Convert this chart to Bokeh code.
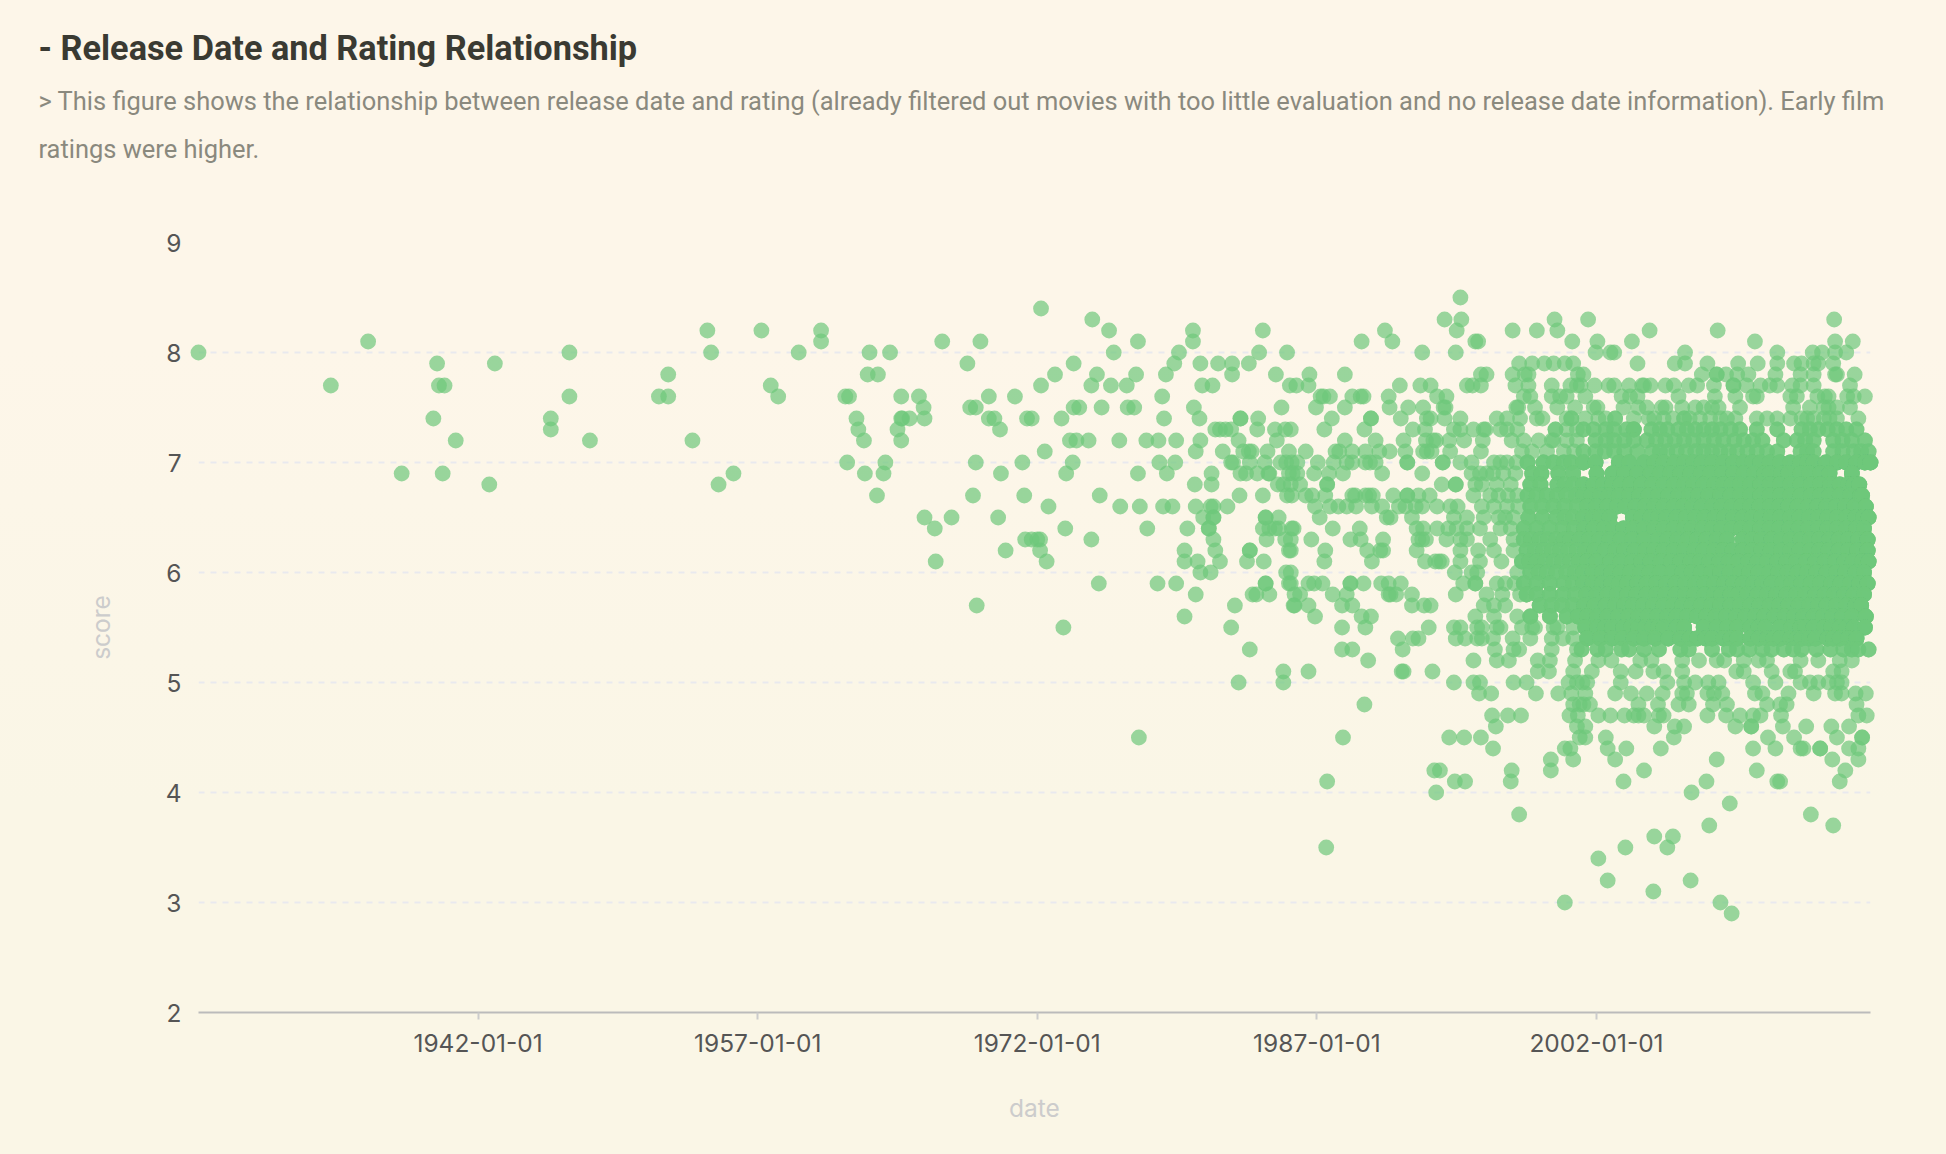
from bokeh.plotting import figure
from bokeh.models import FixedTicker, Title, GlobalInlineStyleSheet, ColumnDataSource
from bokeh.embed import file_html
from bokeh.resources import INLINE

title_text = "- Release Date and Rating Relationship"
subtitle_1 = "> This figure shows the relationship between release date and rating (already filtered out movies with too little evaluation and no release date information). Early film"
subtitle_2 = "ratings were higher."

tick_years = [1942, 1957, 1972, 1987, 2002]
tick_labels = ["1942-01-01", "1957-01-01", "1972-01-01", "1987-01-01", "2002-01-01"]
score_ticks = [2, 3, 4, 5, 6, 7, 8, 9]

# release dates (decimal years) of the films at each score
s85 = [1994.7]
s84 = [1972.2]
s83 = [1974.95, 1993.85, 1994.75, 1999.75, 2001.55, 2014.75]
s82 = [1954.3, 1957.2, 1960.4, 1975.85, 1980.35, 1984.1, 1990.65, 1994.5, 1997.5, 1998.8, 1999.9, 2004.85, 2008.5]
s81 = [1936.1, 1960.4, 1966.9, 1968.95, 1977.4, 1980.35, 1989.4, 1991.05, 1995.5, 1995.65, 2000.7, 2002.05, 2003.9, 2010.5, 2014.8, 2015.75]
s80 = [1927.0, 1946.9, 1954.5, 1959.2, 1963.0, 1964.1, 1976.1, 1979.6, 1983.9, 1985.4, 1992.65, 1994.45, 2001.95, 2002.75, 2002.95, 2006.75, 2011.7, 2013.6, 2014.1, 2014.8, 2015.4]
s79 = [1939.8, 1942.9, 1968.25, 1973.95, 1979.35, 1980.75, 1981.7, 1982.45, 1983.35, 1997.85, 1998.55, 1999.2, 1999.7, 2000.3, 2000.75, 2004.2, 2006.2, 2006.75, 2007.95, 2009.6, 2010.65, 2011.7, 2012.6, 2013.0, 2013.65, 2013.9, 2014.7]
s78 = [1952.2, 1962.9, 1963.45, 1972.95, 1975.2, 1977.3, 1978.9, 1982.45, 1984.8, 1986.6, 1988.5, 1995.8, 1996.1, 1997.5, 1998.15, 1998.35, 2001.0, 2001.3, 2007.65, 2008.45, 2008.45, 2008.95, 2009.55, 2010.15, 2011.6, 2012.95, 2013.65, 2014.8, 2014.9, 2015.85]
s77 = [1934.1, 1939.9, 1940.2, 1957.7, 1972.2, 1974.9, 1975.95, 1976.8, 1980.85, 1981.4, 1985.55, 1985.9, 1986.55, 1991.45, 1992.55, 1993.1, 1995.05, 1995.35, 1995.8, 1997.65, 1998.35, 1999.6, 2000.6, 2000.95, 2001.15, 2001.9, 2002.65, 2002.95, 2003.75, 2004.45, 2004.55, 2004.9, 2005.7, 2006.15, 2006.95, 2007.4, 2008.3, 2009.35, 2009.35, 2010.05, 2010.8, 2011.3, 2011.7, 2012.5, 2012.95, 2013.65, 2015.6]
s76 = [1946.9, 1951.7, 1952.2, 1958.1, 1961.7, 1961.9, 1964.7, 1965.65, 1969.4, 1970.8, 1978.7, 1987.2, 1987.35, 1987.7, 1988.9, 1989.35, 1989.5, 1990.85, 1993.45, 1993.95, 1998.1, 1998.45, 1999.6, 2000.05, 2000.4, 2001.4, 2003.35, 2003.8, 2004.2, 2006.4, 2008.35, 2009.45, 2010.4, 2010.6, 2012.4, 2012.75, 2013.85, 2014.25, 2014.45, 2015.45, 2015.8, 2016.4]
s75 = [1965.9, 1968.4, 1968.7, 1973.95, 1974.25, 1975.45, 1976.85, 1977.2, 1980.4, 1985.1, 1986.95, 1988.5, 1990.9, 1991.9, 1992.7, 1993.8, 1993.9, 1997.7, 1997.8, 1998.7, 1999.9, 2000.85, 2001.85, 2002.05, 2003.45, 2004.25, 2004.7, 2005.5, 2005.7, 2006.6, 2007.3, 2007.75, 2008.2, 2008.55, 2009.7, 2012.55, 2013.45, 2014.2, 2014.45, 2014.9, 2015.6]
s74 = [1939.6, 1945.9, 1962.3, 1964.7, 1964.75, 1965.15, 1965.95, 1969.4, 1969.7, 1971.45, 1971.7, 1973.3, 1978.8, 1980.7, 1982.9, 1982.9, 1983.85, 1987.8, 1989.9, 1989.9, 1991.5, 1992.9, 1993.1, 1993.85, 1994.7, 1996.65, 1997.2, 1997.9, 1998.8, 1999.1, 2000.4, 2000.65, 2000.65, 2001.4, 2002.1, 2002.5, 2003.0, 2003.0, 2004.0, 2004.8, 2005.1, 2005.6, 2006.1, 2006.7, 2006.7, 2007.0, 2007.55, 2008.1, 2008.65, 2009.0, 2009.45, 2010.6, 2011.15, 2011.7, 2012.4, 2013.0, 2013.3, 2013.65, 2014.2, 2014.5, 2014.9, 2016.05]
s73 = [1945.9, 1962.4, 1964.5, 1970.0, 1981.55, 1981.8, 1982.1, 1982.4, 1983.8, 1984.75, 1985.3, 1985.6, 1987.4, 1989.55, 1992.15, 1992.8, 1994.35, 1994.7, 1995.4, 1995.95, 1996.05, 1996.85, 1997.2, 1997.75, 1999.8, 1999.8, 2000.4, 2000.95, 2001.3, 2001.85, 2002.5, 2002.95, 2003.6, 2004.0, 2004.0, 2004.95, 2005.4, 2005.8, 2006.4, 2006.85, 2007.3, 2007.75, 2008.2, 2008.65, 2009.2, 2009.7, 2010.6, 2011.7, 2013.0, 2013.45, 2013.9, 2014.4, 2014.9, 2015.4, 2015.95]
s72 = [1940.8, 1948.0, 1953.5, 1962.7, 1964.7, 1973.75, 1974.1, 1974.75, 1976.4, 1977.85, 1978.5, 1979.45, 1980.75, 1982.8, 1984.85, 1988.5, 1990.15, 1991.65, 1992.85, 1993.25, 1993.4, 1994.1, 1994.9, 1995.9, 1997.45, 1998.1, 1998.9, 1999.6, 1999.7, 2000.4, 2000.95, 2001.95, 2002.5, 2002.95, 2003.5, 2004.0, 2004.7, 2005.2, 2005.7, 2006.2, 2006.7, 2007.2, 2007.75, 2008.3, 2008.8, 2009.4, 2009.9, 2010.4, 2010.9, 2012.05, 2012.75, 2013.2, 2013.65, 2014.7, 2015.2, 2015.7, 2016.4]
s71 = [1972.4, 1980.5, 1981.95, 1983.05, 1983.35, 1983.5, 1984.35, 1985.5, 1986.4, 1988.0, 1988.2, 1988.9, 1989.6, 1990.35, 1990.9, 1991.75, 1992.7, 1992.9, 1993.15, 1994.15, 1995.8, 1998.0, 1998.55, 1999.35, 2000.25, 2000.8, 2001.3, 2001.95, 2002.45, 2002.95, 2003.5, 2004.2, 2005.0, 2005.4, 2005.8, 2006.3, 2006.8, 2007.3, 2007.75, 2008.2, 2008.65, 2009.1, 2009.55, 2010.1, 2010.6, 2011.15, 2011.7, 2012.95, 2013.3, 2013.65, 2014.7, 2015.2, 2015.8, 2016.2, 2016.6]
s70 = [1961.8, 1963.85, 1968.7, 1971.2, 1973.9, 1978.55, 1979.4, 1982.4, 1982.5, 1983.4, 1984.2, 1985.05, 1985.35, 1985.65, 1985.95, 1987.05, 1987.9, 1988.6, 1988.9, 1989.6, 1989.85, 1990.15, 1991.85, 1991.85, 1993.75, 1993.75, 1994.7, 1995.3, 1996.5, 1996.85, 1997.2, 1997.7, 1998.3, 1999.15, 1999.7, 2000.25, 2000.65, 2001.3, 2001.95, 2003.2, 2003.75, 2004.55, 2005.1, 2005.6, 2006.2, 2006.7, 2007.2, 2007.65, 2008.2, 2008.8, 2009.35, 2009.9, 2010.35, 2010.8, 2011.3, 2011.85, 2012.4, 2012.95, 2013.3, 2013.65, 2014.3, 2014.9, 2015.4, 2015.95, 2016.4, 2016.7]
s69 = [1937.9, 1940.1, 1955.7, 1962.75, 1963.75, 1970.05, 1973.55, 1977.4, 1978.95, 1981.35, 1982.9, 1983.2, 1983.8, 1984.4, 1984.45, 1985.5, 1985.7, 1985.95, 1986.85, 1987.65, 1988.4, 1990.5, 1992.65, 1995.3, 1995.75, 1996.1, 1996.45, 1997.0, 1997.65, 1998.55, 1999.05, 1999.95, 2000.75, 2002.0, 2002.85, 2003.5, 2004.2, 2004.9, 2005.4, 2005.95, 2006.5, 2007.05, 2007.6, 2008.1, 2008.75, 2009.35, 2009.9, 2010.45, 2011.0, 2011.3, 2011.9, 2012.3, 2012.95, 2013.4, 2014.0, 2014.5, 2015.7]
s68 = [1942.6, 1954.9, 1980.45, 1981.35, 1984.9, 1985.2, 1985.6, 1986.1, 1987.55, 1987.55, 1993.7, 1994.45, 1994.45, 1995.5, 1995.85, 1996.65, 1997.4, 1998.45, 1999.0, 1999.9, 2000.3, 2000.75, 2001.3, 2001.85, 2002.35, 2002.85, 2003.3, 2003.8, 2004.4, 2005.0, 2005.6, 2006.15, 2006.7, 2007.2, 2007.75, 2008.3, 2008.8, 2009.25, 2009.7, 2010.25, 2010.8, 2011.3, 2011.85, 2012.4, 2012.95, 2013.5, 2014.0, 2014.55, 2015.05, 2015.5, 2015.8, 2016.1]
s67 = [1963.4, 1968.55, 1971.3, 1975.35, 1982.85, 1984.1, 1985.4, 1985.65, 1986.4, 1986.75, 1987.45, 1988.9, 1989.05, 1989.6, 1989.8, 1990.0, 1991.1, 1991.85, 1991.85, 1992.45, 1993.05, 1995.4, 1996.3, 1996.75, 1997.25, 1997.75, 1998.3, 1998.8, 1999.35, 1999.9, 2000.4, 2000.9, 2001.3, 2001.7, 2002.2, 2002.65, 2003.2, 2003.75, 2004.3, 2004.8, 2005.3, 2005.85, 2006.4, 2006.95, 2007.45, 2008.0, 2008.65, 2009.2, 2009.7, 2010.25, 2010.8, 2011.3, 2011.85, 2012.4, 2012.95, 2013.5, 2014.0, 2014.5, 2015.05, 2015.6, 2016.15, 2016.25]
s66 = [1972.6, 1976.45, 1977.5, 1978.75, 1979.25, 1980.5, 1981.3, 1981.45, 1982.2, 1986.9, 1987.7, 1988.15, 1988.6, 1989.1, 1989.95, 1990.5, 1991.4, 1991.75, 1992.3, 1992.65, 1993.45, 1994.15, 1994.55, 1995.85, 1996.5, 1997.2, 1997.8, 1998.45, 1999.1, 1999.7, 2000.3, 2000.95, 2001.5, 2002.0, 2002.6, 2003.1, 2003.55, 2004.1, 2004.6, 2005.1, 2005.6, 2006.15, 2006.65, 2007.15, 2007.65, 2008.2, 2008.7, 2009.25, 2009.75, 2010.25, 2010.75, 2011.3, 2011.8, 2012.3, 2012.8, 2013.35, 2013.85, 2014.35, 2014.85, 2015.35, 2015.85, 2016.45]
s65 = [1965.95, 1967.4, 1969.9, 1980.9, 1981.45, 1981.45, 1984.25, 1984.25, 1984.95, 1987.15, 1990.75, 1990.95, 1992.1, 1994.35, 1995.05, 1995.95, 1996.75, 1997.1, 1997.55, 1998.35, 1999.1, 1999.85, 2000.3, 2000.75, 2001.3, 2001.8, 2002.2, 2002.7, 2003.95, 2004.4, 2004.9, 2005.3, 2005.75, 2006.3, 2006.8, 2007.3, 2007.8, 2008.35, 2008.85, 2009.35, 2009.85, 2010.35, 2010.85, 2011.35, 2011.85, 2012.4, 2012.9, 2013.4, 2013.9, 2014.4, 2014.9, 2015.4, 2015.9, 2016.3, 2016.6]
s64 = [1966.5, 1973.5, 1977.9, 1980.05, 1981.2, 1981.2, 1984.1, 1984.45, 1984.75, 1984.95, 1985.65, 1985.75, 1987.85, 1989.3, 1992.35, 1992.7, 1993.45, 1994.05, 1994.5, 1995.05, 1995.75, 1996.85, 1997.4, 1998.1, 1998.8, 1999.5, 2000.2, 2000.8, 2001.35, 2001.85, 2002.4, 2002.9, 2003.45, 2004.0, 2004.55, 2005.1, 2005.6, 2006.15, 2006.7, 2007.1, 2007.7, 2008.2, 2008.7, 2009.25, 2009.75, 2010.25, 2010.8, 2011.3, 2011.8, 2012.35, 2012.85, 2013.35, 2013.9, 2014.4, 2014.9, 2015.4, 2015.95, 2016.35]
s63 = [1971.35, 1971.7, 1972.0, 1972.15, 1974.9, 1981.45, 1984.3, 1985.3, 1985.6, 1986.7, 1988.8, 1989.35, 1990.55, 1992.45, 1992.65, 1992.85, 1993.95, 1994.7, 1995.05, 1996.3, 1997.55, 1998.1, 1998.5, 1998.95, 1999.4, 1999.85, 2000.25, 2000.6, 2001.1, 2001.6, 2002.15, 2002.7, 2003.3, 2003.9, 2004.55, 2005.3, 2005.8, 2006.35, 2006.9, 2007.4, 2007.9, 2008.45, 2009.0, 2009.85, 2010.35, 2010.85, 2011.4, 2011.9, 2012.4, 2012.95, 2013.45, 2013.95, 2014.5, 2015.0, 2015.5, 2016.05, 2016.55]
s62 = [1970.3, 1972.15, 1979.9, 1981.55, 1983.4, 1983.4, 1985.5, 1985.6, 1987.45, 1989.7, 1990.4, 1990.55, 1992.35, 1994.7, 1995.65, 1996.5, 1997.55, 1998.25, 1998.7, 1999.15, 1999.6, 2000.05, 2000.5, 2000.95, 2001.4, 2001.9, 2002.45, 2003.0, 2003.5, 2004.05, 2004.6, 2005.1, 2005.6, 2006.15, 2006.7, 2007.25, 2007.75, 2008.3, 2008.8, 2009.3, 2009.85, 2010.35, 2010.85, 2011.35, 2011.9, 2012.4, 2012.9, 2013.45, 2013.95, 2014.45, 2015.0, 2015.5, 2016.0, 2016.55]
s61 = [1966.55, 1972.5, 1979.9, 1980.6, 1981.8, 1983.25, 1984.15, 1987.4, 1989.95, 1992.8, 1993.35, 1993.55, 1993.7, 1994.7, 1995.75, 1996.9, 1998.0, 1998.4, 1998.8, 1999.25, 1999.7, 2000.15, 2000.6, 2001.05, 2001.5, 2002.0, 2002.75, 2003.3, 2003.9, 2004.4, 2004.9, 2005.45, 2006.0, 2006.5, 2007.05, 2007.55, 2008.05, 2008.6, 2009.1, 2009.6, 2010.15, 2010.65, 2011.15, 2011.7, 2012.2, 2012.7, 2013.25, 2013.75, 2014.25, 2014.8, 2015.3, 2015.75, 2016.25, 2016.6]
s60 = [1980.75, 1981.3, 1985.35, 1985.6, 1994.4, 1995.3, 1995.6, 1997.75, 1998.45, 1998.9, 1999.35, 1999.85, 2000.4, 2000.85, 2001.3, 2001.8, 2002.3, 2002.8, 2003.3, 2003.8, 2004.35, 2004.85, 2005.4, 2006.05, 2006.6, 2007.1, 2007.6, 2008.15, 2008.65, 2009.15, 2009.7, 2010.2, 2010.7, 2011.25, 2011.75, 2012.25, 2012.8, 2013.3, 2013.8, 2014.35, 2014.85, 2015.35, 2015.9, 2016.35]
s59 = [1975.3, 1978.45, 1979.45, 1984.25, 1984.25, 1985.5, 1985.6, 1986.55, 1986.85, 1987.3, 1988.8, 1988.8, 1989.5, 1990.45, 1990.85, 1991.5, 1994.85, 1995.5, 1995.5, 1996.65, 1997.1, 1997.6, 1998.1, 1998.8, 1999.5, 2000.25, 2000.75, 2001.3, 2001.8, 2002.3, 2002.8, 2003.2, 2003.65, 2004.2, 2004.7, 2005.2, 2005.75, 2006.25, 2006.75, 2007.3, 2007.8, 2008.3, 2008.85, 2009.35, 2009.85, 2010.4, 2010.9, 2011.4, 2011.95, 2012.45, 2013.0, 2013.5, 2014.0, 2014.6, 2015.1, 2015.6, 2016.1, 2016.55]
s58 = [1980.5, 1983.55, 1983.75, 1984.45, 1985.8, 1986.1, 1987.85, 1988.6, 1990.85, 1990.95, 1991.25, 1992.1, 1994.45, 1996.1, 1996.95, 1997.9, 1998.25, 1998.8, 1999.5, 2000.2, 2000.85, 2001.45, 2002.0, 2002.6, 2003.1, 2003.65, 2004.15, 2004.7, 2005.2, 2005.7, 2006.25, 2006.75, 2007.25, 2007.8, 2008.3, 2008.7, 2009.2, 2009.6, 2010.1, 2010.65, 2011.15, 2011.65, 2012.2, 2012.7, 2013.2, 2013.75, 2014.25, 2014.75, 2015.3, 2015.8, 2016.35]
s57 = [1968.75, 1982.6, 1985.75, 1985.8, 1986.55, 1988.35, 1988.9, 1992.1, 1992.75, 1993.1, 1995.95, 1996.5, 1997.1, 1998.95, 1999.6, 2000.15, 2000.75, 2001.35, 2001.9, 2002.5, 2003.0, 2003.5, 2003.95, 2004.5, 2005.05, 2005.6, 2006.1, 2006.6, 2007.1, 2007.6, 2008.15, 2008.65, 2009.2, 2009.7, 2010.25, 2010.75, 2011.3, 2011.8, 2012.3, 2012.85, 2013.4, 2013.9, 2014.35, 2014.85, 2015.4, 2015.9, 2016.2]
s56 = [1979.9, 1986.9, 1989.4, 1989.9, 1995.5, 1996.5, 1997.75, 1998.45, 1999.5, 2000.4, 2001.0, 2001.5, 2002.05, 2002.6, 2003.15, 2003.7, 2004.25, 2004.75, 2005.25, 2005.8, 2006.3, 2006.85, 2007.4, 2007.9, 2008.4, 2008.95, 2009.5, 2010.0, 2010.5, 2011.0, 2011.55, 2012.1, 2012.6, 2013.1, 2013.65, 2014.15, 2014.65, 2015.2, 2015.7, 2016.45]
s55 = [1973.4, 1982.4, 1988.35, 1989.6, 1993.0, 1994.35, 1994.7, 1995.6, 1995.85, 1996.65, 1996.85, 1998.0, 1998.55, 1998.7, 1999.7, 1999.9, 2000.75, 2001.4, 2002.05, 2002.45, 2002.85, 2003.45, 2003.85, 2004.25, 2004.6, 2005.0, 2005.3, 2005.6, 2006.3, 2006.7, 2007.75, 2008.45, 2009.0, 2009.55, 2010.25, 2010.7, 2011.05, 2011.85, 2012.45, 2012.95, 2013.2, 2013.65, 2014.2, 2014.6, 2015.05, 2015.4, 2015.8, 2016.4]
s54 = [1991.35, 1992.15, 1992.45, 1994.45, 1994.95, 1995.6, 1995.85, 1996.45, 1997.5, 1998.45, 1999.6, 2000.2, 2000.75, 2001.5, 2002.2, 2002.85, 2003.4, 2004.0, 2004.55, 2005.15, 2005.85, 2006.5, 2007.0, 2007.4, 2007.85, 2008.2, 2008.8, 2009.2, 2009.55, 2010.25, 2010.7, 2011.15, 2011.5, 2011.85, 2012.4, 2012.75, 2013.0, 2013.4, 2013.75, 2014.4, 2014.7, 2015.05, 2015.5, 2015.95]
s53 = [1983.4, 1988.35, 1988.9, 1991.6, 1996.55, 1997.55, 1997.85, 1999.6, 2000.95, 2001.2, 2002.05, 2002.5, 2003.35, 2003.75, 2004.55, 2005.35, 2006.5, 2006.95, 2008.2, 2009.1, 2009.55, 2010.2, 2010.9, 2011.4, 2012.05, 2012.55, 2013.0, 2013.8, 2014.55, 2015.25, 2015.7, 2016.05, 2016.6]
s52 = [1989.75, 1995.4, 1996.65, 1997.3, 1998.85, 1999.5, 2000.85, 2002.1, 2002.8, 2004.35, 2004.95, 2006.6, 2007.5, 2008.45, 2008.85, 2009.9, 2010.7, 2011.15, 2012.95, 2013.9, 2015.05, 2015.7]
s51 = [1985.2, 1986.55, 1991.55, 1991.65, 1993.2, 1998.85, 1999.45, 2000.75, 2001.75, 2003.3, 2004.1, 2005.05, 2005.6, 2006.6, 2009.5, 2009.9, 2011.4, 2012.4, 2012.65, 2014.7, 2015.15]
s50 = [1982.8, 1985.2, 1994.35, 1995.4, 1995.75, 1997.55, 1998.25, 2000.5, 2000.95, 2001.25, 2001.5, 2003.3, 2005.8, 2006.7, 2007.3, 2008.0, 2008.55, 2010.4, 2011.6, 2012.95, 2013.45, 2013.9, 2014.45, 2014.9, 2015.15]
s49 = [1995.7, 1996.35, 1998.75, 1999.95, 2000.65, 2001.4, 2003.0, 2003.85, 2004.7, 2005.55, 2006.6, 2006.85, 2007.95, 2008.3, 2008.75, 2010.5, 2010.9, 2012.3, 2013.65, 2014.8, 2015.15, 2015.9, 2016.45]
s48 = [1989.55, 2000.75, 2001.1, 2001.3, 2001.65, 2004.25, 2005.3, 2006.4, 2006.95, 2008.25, 2009.0, 2011.15, 2011.85, 2012.2, 2015.95]
s47 = [1996.4, 1997.25, 1997.95, 2000.55, 2001.0, 2002.1, 2002.75, 2003.5, 2004.0, 2004.25, 2004.55, 2005.35, 2005.6, 2007.95, 2008.95, 2009.7, 2010.4, 2010.8, 2011.9, 2016.05, 2016.5]
s46 = [1996.6, 2000.95, 2001.4, 2005.1, 2006.2, 2006.7, 2009.45, 2010.3, 2010.3, 2012.0, 2013.25, 2014.6, 2015.55]
s45 = [1977.45, 1988.4, 1994.1, 1994.9, 1995.8, 2001.1, 2001.4, 2002.5, 2006.15, 2011.2, 2012.6, 2014.9, 2016.25, 2016.25]
s44 = [1996.45, 2000.3, 2000.6, 2002.6, 2003.6, 2005.45, 2010.4, 2011.6, 2012.95, 2013.1, 2014.0, 2014.0, 2015.55, 2016.05]
s43 = [1999.55, 2000.75, 2003.0, 2008.45, 2014.65, 2016.05]
s42 = [1993.3, 1993.6, 1997.45, 1999.55, 2004.55, 2010.6, 2015.35]
s41 = [1987.55, 1994.4, 1994.95, 1997.4, 2003.45, 2007.9, 2011.7, 2011.85, 2015.05]
s40 = [1993.4, 2007.1]
s39 = [2009.15]
s38 = [1997.85, 2013.5]
s37 = [2008.05, 2014.7]
s36 = [2005.1, 2006.1]
s35 = [1987.5, 2003.55, 2005.8]
s34 = [2002.1]
s32 = [2002.6, 2007.05]
s31 = [2005.05]
s30 = [2000.3, 2008.65]
s29 = [2009.25]

score_levels = [8.5, 8.4, 8.3, 8.2, 8.1, 8.0, 7.9, 7.8, 7.7, 7.6, 7.5, 7.4, 7.3, 7.2, 7.1, 7.0, 6.9, 6.8, 6.7, 6.6,
                6.5, 6.4, 6.3, 6.2, 6.1, 6.0, 5.9, 5.8, 5.7, 5.6, 5.5, 5.4, 5.3, 5.2, 5.1, 5.0, 4.9, 4.8, 4.7, 4.6,
                4.5, 4.4, 4.3, 4.2, 4.1, 4.0, 3.9, 3.8, 3.7, 3.6, 3.5, 3.4, 3.2, 3.1, 3.0, 2.9]
level_dates = [s85, s84, s83, s82, s81, s80, s79, s78, s77, s76, s75, s74, s73, s72, s71, s70, s69, s68, s67, s66,
               s65, s64, s63, s62, s61, s60, s59, s58, s57, s56, s55, s54, s53, s52, s51, s50, s49, s48, s47, s46,
               s45, s44, s43, s42, s41, s40, s39, s38, s37, s36, s35, s34, s32, s31, s30, s29]


def overlap_depth(year, score):
    # where the reference's films pile up so thickly that the colour saturates
    if year >= 2001 and 5.4 <= score <= 7.0:
        return 4
    if year >= 1998 and 5.6 <= score <= 7.0:
        return 3
    if year >= 2001 and (7.1 <= score <= 7.3 or score == 5.3):
        return 2
    return 1


xs, ys = [], []
for level, dates in zip(score_levels, level_dates):
    for d in dates:
        n = overlap_depth(d, level)
        xs.extend([d] * n)
        ys.extend([level] * n)

p = figure(width=1930, height=1138, x_range=(1927.0, 2016.7), y_range=(2, 9), title=None,
           output_backend="svg", toolbar_location=None,
           min_border_left=190, min_border_right=68, min_border_top=234, min_border_bottom=134,
           background_fill_color=None, border_fill_color=None, outline_line_color=None)
p.stylesheets = [GlobalInlineStyleSheet(css=(
    "html{height:100%;background:linear-gradient(180deg,#fdf6e9 0%,#fdf6e9 30%,#faf6e6 70%,#faf6e6 100%);}"
    "body{margin:8px;background:transparent;overflow:hidden;}"))]

p.xgrid.visible = False
p.ygrid.ticker = FixedTicker(ticks=score_ticks[1:])
p.ygrid.grid_line_color = "#e9e9ee"
p.ygrid.grid_line_width = 2
p.ygrid.grid_line_dash = "6 6"

p.xaxis.ticker = FixedTicker(ticks=tick_years)
p.xaxis.major_label_overrides = dict(zip(tick_years, tick_labels))
p.xaxis.axis_line_color = "#bbbbbb"
p.xaxis.axis_line_width = 2
p.xaxis.major_tick_line_color = "#cccccc"
p.xaxis.major_tick_line_width = 2
p.xaxis.major_tick_in = 0
p.xaxis.major_tick_out = 7
p.xaxis.minor_tick_line_color = None
p.xaxis.major_label_standoff = 14
p.xaxis.axis_label = "date"
p.xaxis.axis_label_standoff = 38

p.yaxis.ticker = FixedTicker(ticks=score_ticks)
p.yaxis.axis_line_color = None
p.yaxis.major_tick_line_color = None
p.yaxis.minor_tick_line_color = None
p.yaxis.major_label_standoff = 11
p.yaxis.axis_label = "score"
p.yaxis.axis_label_standoff = 47

for ax in (p.xaxis[0], p.yaxis[0]):
    ax.major_label_text_font = "Inter"
    ax.major_label_text_font_size = "24.5px"
    ax.major_label_text_color = "#555555"
    ax.axis_label_text_font = "Inter"
    ax.axis_label_text_font_size = "24.5px"
    ax.axis_label_text_font_style = "normal"
    ax.axis_label_text_color = "#cccccc"

source = ColumnDataSource(dict(x=xs, y=ys))
p.scatter("x", "y", source=source, size=15.8, fill_color="#6ec77b", fill_alpha=0.7,
          line_color=None, level="overlay")

label_font = "Roboto"
p.add_layout(Title(text=" ", align="left", offset=-160, standoff=36, text_font=label_font,
                   text_font_size="25.45px", text_font_style="normal"), "above")
p.add_layout(Title(text=subtitle_2, align="left", offset=-160, standoff=21, text_font=label_font,
                   text_font_size="25.45px", text_font_style="normal", text_color="#8a897e"), "above")
p.add_layout(Title(text=subtitle_1, align="left", offset=-160, standoff=11, text_font=label_font,
                   text_font_size="25.45px", text_font_style="normal", text_color="#8a897e"), "above")
p.add_layout(Title(text=title_text, align="left", offset=-160, standoff=21, text_font=label_font,
                   text_font_size="34.3px", text_font_style="bold", text_color="#3a3a32"), "above")

open("out.html", "w").write(file_html(p, INLINE))
